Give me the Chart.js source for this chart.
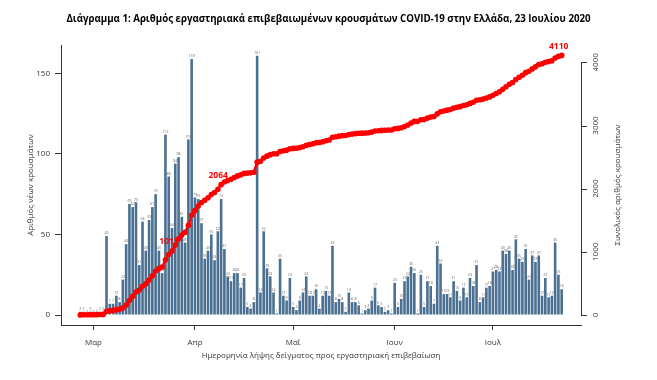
<!DOCTYPE html>
<html>
<head>
<meta charset="utf-8">
<script src="https://cdn.jsdelivr.net/npm/chart.js@4.4.1/dist/chart.umd.min.js"></script>
<style>
  html, body { margin: 0; padding: 0; background: #fff; }
  #wrap { width: 657px; height: 380px; }
</style>
</head>
<body>
<div id="wrap"><canvas id="chart" width="657" height="380"></canvas></div>
<script>
// Daily lab-confirmed cases by sampling date, day 0 = 26 Feb 2020
const newCases = [
    2, 2, 0, 2, 0, 0, 2, 2, 49, 7, 7, 12, 8, 22, 44, 69, 67, 70, 31, 58,
    40, 59, 67, 75, 40, 26, 112, 86, 54, 94, 98, 61, 45, 109, 159, 73, 72, 57, 35, 40,
    50, 34, 52, 72, 41, 24, 21, 26, 26, 17, 23, 5, 4, 8, 161, 14, 52, 29, 24, 14,
    1, 35, 12, 9, 23, 5, 3, 9, 14, 24, 12, 12, 16, 4, 12, 15, 12, 43, 8, 10,
    8, 2, 14, 8, 8, 6, 1, 3, 4, 9, 17, 6, 5, 2, 3, 1, 20, 5, 10, 21,
    24, 30, 26, 1, 25, 5, 21, 18, 7, 43, 32, 13, 13, 11, 21, 15, 9, 17, 11, 23,
    18, 31, 8, 11, 17, 18, 27, 28, 27, 40, 38, 40, 28, 47, 35, 33, 41, 22, 37, 33,
    37, 12, 23, 11, 12, 45, 25, 16
];

// Running total of confirmed cases (right axis)
const totalCases = [
    2, 4, 4, 6, 6, 6, 8, 10, 59, 66, 73, 85, 93, 115, 159, 228, 295, 365, 396, 454,
    494, 553, 620, 695, 735, 761, 873, 959, 1013, 1107, 1205, 1266, 1311, 1420, 1579, 1652, 1724, 1781, 1816, 1856,
    1906, 1940, 1992, 2064, 2105, 2129, 2150, 2176, 2202, 2219, 2242, 2247, 2251, 2259, 2420, 2434, 2486, 2515, 2539, 2553,
    2554, 2589, 2601, 2610, 2633, 2638, 2641, 2650, 2664, 2688, 2700, 2712, 2728, 2732, 2744, 2759, 2771, 2814, 2822, 2832,
    2840, 2842, 2856, 2864, 2872, 2878, 2879, 2882, 2886, 2895, 2912, 2918, 2923, 2925, 2928, 2929, 2949, 2954, 2964, 2985,
    3009, 3039, 3065, 3066, 3091, 3096, 3117, 3135, 3142, 3185, 3217, 3230, 3243, 3254, 3275, 3290, 3299, 3316, 3327, 3350,
    3368, 3399, 3407, 3418, 3435, 3453, 3480, 3508, 3535, 3575, 3613, 3653, 3681, 3728, 3763, 3796, 3837, 3859, 3896, 3929,
    3966, 3978, 4001, 4012, 4024, 4069, 4094, 4110
];

// First day of each month, as day index, and its label
const monthTicks = [4, 35, 65, 96, 126];
const monthLabels = ['Μαρ', 'Απρ', 'Μαΐ', 'Ιουν', 'Ιουλ'];

const leftTicks = [0, 50, 100, 150];
const rightTicks = [0, 1000, 2000, 3000, 4000];

// days whose running total is written next to the red line
const labelledDays = [28, 43, 147];

const FONT = '"Open Sans", "DejaVu Sans", sans-serif';
const BAR_COLOR = '#4c7091';
const AXIS_COLOR = '#333333';

// Value labels on top of each bar + running total labels
const valueLabels = {
    id: 'valueLabels',
    afterDatasetDraw(chart, args) {
        if (args.index !== 0) return;
        const ctx = chart.ctx;
        const xs = chart.scales.x, ys = chart.scales.y, ys1 = chart.scales.y1;
        ctx.save();
        ctx.textAlign = 'center';
        ctx.textBaseline = 'bottom';
        ctx.fillStyle = '#666666';
        ctx.font = '3.5px ' + FONT;
        newCases.forEach((v, i) => {
            ctx.fillText(String(v), xs.getPixelForValue(i), ys.getPixelForValue(v) - 1);
        });
        ctx.fillStyle = '#ff0000';
        ctx.font = 'bold 8.5px ' + FONT;
        labelledDays.forEach(i => {
            ctx.fillText(String(totalCases[i]), xs.getPixelForValue(i) - 3, ys1.getPixelForValue(totalCases[i]) - 5);
        });
        ctx.restore();
    }
};

// Right axis drawn R-style: line only between first and last tick, labels parallel to the axis
const rightAxis = {
    id: 'rightAxis',
    afterDraw(chart) {
        const ctx = chart.ctx;
        const ys1 = chart.scales.y1;
        const x0 = chart.chartArea.right;
        ctx.save();
        ctx.strokeStyle = AXIS_COLOR;
        ctx.lineWidth = 1;
        ctx.beginPath();
        ctx.moveTo(x0 + 0.5, ys1.getPixelForValue(rightTicks[0]));
        ctx.lineTo(x0 + 0.5, ys1.getPixelForValue(rightTicks[rightTicks.length - 1]));
        rightTicks.forEach(t => {
            const py = Math.round(ys1.getPixelForValue(t)) + 0.5;
            ctx.moveTo(x0, py);
            ctx.lineTo(x0 + 6, py);
        });
        ctx.stroke();

        ctx.fillStyle = AXIS_COLOR;
        ctx.font = '8px ' + FONT;
        ctx.textAlign = 'center';
        ctx.textBaseline = 'middle';
        rightTicks.forEach(t => {
            ctx.save();
            ctx.translate(x0 + 14.5, ys1.getPixelForValue(t));
            ctx.rotate(-Math.PI / 2);
            ctx.fillText(String(t), 0, 0);
            ctx.restore();
        });

        ctx.save();
        ctx.translate(x0 + 37, (chart.chartArea.top + chart.chartArea.bottom) / 2);
        ctx.rotate(-Math.PI / 2);
        ctx.fillText('Συνολικός αριθμός κρουσμάτων', 0, 0);
        ctx.restore();
        ctx.restore();
    }
};

const ctx = document.getElementById('chart');

new Chart(ctx, {
    data: {
        datasets: [
            {
                type: 'bar',
                label: 'Νέα κρούσματα',
                data: newCases.map((v, i) => ({ x: i, y: v })),
                backgroundColor: BAR_COLOR,
                borderWidth: 0,
                barPercentage: 0.8,
                categoryPercentage: 1,
                yAxisID: 'y',
                order: 2
            },
            {
                type: 'line',
                label: 'Συνολικά κρούσματα',
                data: totalCases.map((v, i) => ({ x: i, y: v })),
                borderColor: '#ff0000',
                backgroundColor: '#ff0000',
                borderWidth: 2.5,
                pointRadius: 2.8,
                pointBorderWidth: 0,
                pointBackgroundColor: '#ff0000',
                tension: 0,
                yAxisID: 'y1',
                order: 1
            }
        ]
    },
    options: {
        responsive: false,
        animation: false,
        layout: { padding: 0 },
        plugins: {
            legend: { display: false },
            tooltip: { enabled: false },
            title: {
                display: true,
                text: 'Διάγραμμα 1: Αριθμός εργαστηριακά επιβεβαιωμένων κρουσμάτων COVID-19 στην Ελλάδα, 23 Ιουλίου 2020',
                color: '#000000',
                font: { family: FONT, size: 9.7, weight: 'bold', lineHeight: 1.2 },
                padding: { top: 13, bottom: 20.4 }
            }
        },
        scales: {
            x: {
                type: 'linear',
                min: -5.9,
                max: 152.9,
                offset: false,
                afterBuildTicks: (scale) => { scale.ticks = monthTicks.map(v => ({ value: v })); },
                afterFit: (scale) => { scale.height = 55; },
                ticks: {
                    autoSkip: false,
                    maxRotation: 0,
                    padding: 8,
                    color: AXIS_COLOR,
                    font: { family: FONT, size: 8 },
                    callback: (value, index) => monthLabels[index]
                },
                grid: { offset: false, drawOnChartArea: false, tickLength: 5, color: AXIS_COLOR },
                border: { display: true, color: AXIS_COLOR },
                title: {
                    display: true,
                    text: 'Ημερομηνία λήψης δείγματος προς εργαστηριακή επιβεβαίωση',
                    color: AXIS_COLOR,
                    font: { family: FONT, size: 8, lineHeight: 1.2 },
                    padding: { top: 0, bottom: 19 }
                }
            },
            y: {
                type: 'linear',
                position: 'left',
                min: -6.2,
                max: 167.6,
                afterBuildTicks: (scale) => { scale.ticks = leftTicks.map(v => ({ value: v })); },
                afterFit: (scale) => { scale.width = 61; },
                ticks: {
                    padding: 5,
                    color: AXIS_COLOR,
                    font: { family: FONT, size: 8 }
                },
                grid: { drawOnChartArea: false, tickLength: 6, color: AXIS_COLOR },
                border: { display: true, color: AXIS_COLOR },
                title: {
                    display: true,
                    text: 'Αριθμός νέων κρουσμάτων',
                    color: AXIS_COLOR,
                    font: { family: FONT, size: 8, lineHeight: 1.2 },
                    padding: { top: 26, bottom: 0 }
                }
            },
            // right axis keeps its room; its ticks and title are drawn by the rightAxis plugin
            y1: {
                type: 'linear',
                position: 'right',
                min: -158,
                max: 4274,
                afterFit: (scale) => { scale.width = 76; },
                ticks: { display: false },
                grid: { display: false },
                border: { display: false }
            }
        }
    },
    plugins: [valueLabels, rightAxis]
});
</script>
</body>
</html>
